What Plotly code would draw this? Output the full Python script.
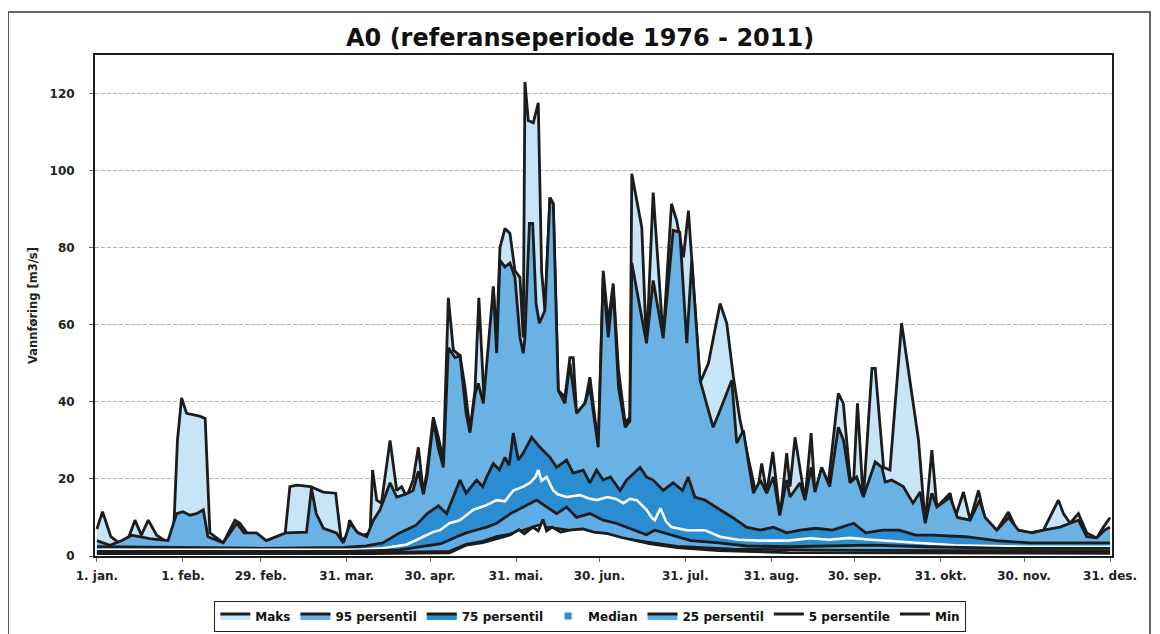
import plotly.graph_objects as go

# Day-of-year (1..366, leap year) and discharge values
maks_day = [1, 3, 6, 10, 12, 14.7, 17, 19.5, 22.5, 26.7, 28.5, 30, 31.5, 33.3, 38, 40, 41.7,
            46.5, 50.7, 52.5, 55, 59.7, 62, 67, 68.7, 70.5, 73, 78, 82.5, 87, 89, 91, 92, 94.6,
            97, 99.4, 100.3, 101.8, 103.5, 106.6, 109, 110.8, 112.6, 114.9, 116.8, 118.6, 119.8,
            122.2, 124, 125.8, 127.6, 129.4, 131.8, 133.6, 135.4, 137.2, 138.6, 140.5, 142.6,
            143.8, 145, 146.2, 148, 149.8, 151.6, 153.4, 154.6, 155.2, 156.4, 158.2, 160, 161.2,
            162.4, 164.2, 165.4, 167.2, 169.6, 171.4, 172.6, 173.8, 176.8, 178.6, 180.5, 181.6,
            183.4, 185.2, 187, 188.9, 191.3, 193, 193.7, 195.4, 197.3, 199, 201.4, 205, 208,
            209.9, 212.3, 214.1, 215.3, 218.3, 221.3, 225.5, 227.9, 230.3, 232.7, 235.7, 238.7,
            240.5, 242.3, 244.5, 247.1, 249.5, 250.7, 252.5, 254.3, 256.1, 258.3, 259.7, 262.1,
            264.5, 268.1, 269.9, 272.3, 273.6, 275, 277.1, 280.2, 281.4, 284.4, 286.7, 290.9,
            295.2, 297, 299.4, 301.8, 303.6, 306, 308.4, 310.2, 313.2, 315.6, 318.6, 321, 325.2,
            329.4, 332.4, 337.2, 342, 347.4, 349.2, 351.6, 354.6, 357.6, 361.2, 363.6, 366]
maks_val = [7, 11.5, 5, 2.8, 4, 9.3, 5.4, 9.3, 5.4, 3.4, 4, 30, 41, 37, 36.3, 35.7, 6,
            3.4, 9.3, 8.5, 6, 4.7, 3.4, 3.4, 5, 18, 18.4, 18, 16.6, 16.3, 4.1, 5, 9.3, 6.2,
            5.4, 6, 22.3, 14.5, 13.7, 30, 17, 18, 15.3, 19.7, 28.2, 16.3, 21.5,
            36, 30.8, 24.9, 67, 53.4, 52, 43.8, 32.6, 43, 67, 40, 38.6,
            70, 56.7, 80, 85, 83.7, 74, 72.3, 56.7, 123, 113, 112.4, 117.6, 74,
            63.7, 93, 91.4, 43, 41.2, 51.5, 51.5, 37, 39.6, 46.4, 35.2, 28.2,
            74, 60.4, 70.7, 48.2, 34.5, 36, 99.2, 93, 85.2, 54, 94.3, 56.5, 91.4,
            87, 77.5, 89.6, 76.7, 45, 50, 65.5, 60.4, 46.4, 35.2, 24.9, 15.3,
            24, 16.3, 27, 10.1, 26.7, 18, 30.8, 23, 14.5, 31.9, 16.3, 22.8,
            18.9, 42.2, 39.6, 20.5, 19.2, 39.6, 14.5, 48.7, 48.7, 23, 22.3, 60.4,
            39.6, 30, 8.5, 27.5, 12.7, 14.5, 16.3, 10, 16.6, 9.3, 17, 9.3, 6.7,
            11.4, 6.7, 6, 6.7, 14.5, 11, 8.5, 11, 6, 4.7, 7.5, 10]

p95_day = [1, 5.7, 10, 13.5, 20, 26.6, 29.7, 32, 34.5, 36.9, 39.3, 41, 46.5, 51.4, 54, 58.5,
           62, 69, 76.5, 78.3, 80, 82.6, 87.3, 89.8, 92.2, 95, 98.2, 100.6, 103, 106.6, 109,
           112, 114.9, 116.8, 118.6, 120, 122.2, 124, 125.8, 127.6, 130, 131.8, 134, 135.4,
           137.2, 138.4, 140.2, 143.8, 145, 146.2, 148, 149.8, 151.6, 153.4, 154.6, 155.2,
           156.8, 158, 159.2, 160.4, 162.4, 164.2, 165.4, 167.2, 169.6, 171.4, 173.8, 176.8,
           178.6, 180.5, 181.6, 183.4, 185.2, 187, 188.9, 191.3, 193, 193.7, 196.7, 199, 201.4,
           205, 208.6, 211, 213.5, 215.3, 218.3, 223, 225.5, 227.9, 229.7, 231.5, 233.9, 237.5,
           240, 242.3, 244.7, 247, 249.5, 250.7, 254.3, 256.1, 258.3, 259.7, 262.1, 265, 268.1,
           270, 272.3, 274.7, 277.1, 281.4, 283.8, 285, 287.3, 291.5, 295, 297.6, 299.4, 301.8,
           303.6, 306, 308.4, 311, 315.6, 319, 321, 325.2, 329.4, 333, 338, 342, 348, 351.6,
           354.6, 357.6, 361.2, 364, 366]
p95_val = [4, 2.8, 4, 5.4, 4.5, 4, 11, 11.5, 10.6, 11, 12, 5, 3.4, 8.5, 6, 6,
           4, 6, 6.2, 17.6, 11, 7.2, 6, 3.4, 8.5, 6, 5, 9.3, 12, 19, 15.3,
           16, 17, 22, 16, 21, 35, 28, 23, 54, 51.5, 52, 37, 32,
           42, 44.8, 39.6, 69.7, 52.6, 76.7, 75, 76, 72.3, 56.7, 52.6, 56.7,
           86.3, 86.3, 65.5, 60.4, 63.7, 93, 91.4, 43, 39.6, 50, 37, 39.6,
           43.8, 34.5, 28.2, 72.3, 56.7, 69.7, 43.8, 33.4, 35, 76, 64.5, 55.2, 71.5,
           56.5, 84.5, 84, 55.2, 76.7, 45.6, 33.4, 37.8, 42.2, 45.6, 29.3, 32.6, 16.3,
           19.7, 16.3, 20.5, 10.5, 19.7, 15.3, 19, 14.5, 23, 16.6, 23, 18, 33.4,
           30, 19, 20.5, 15.3, 24.4, 23, 19.2, 19.7, 18, 13.7, 16.6, 8.5, 16.3,
           12.7, 14, 15.3, 10, 9.3, 14.5, 10, 6.7, 10, 6.7, 6, 6.7, 7.5, 8.5,
           9.3, 5, 4.7, 6.7, 7.5]

p75_day = [1, 30, 60, 90, 98, 104, 110, 116, 120, 124, 127, 131.8, 134, 137.8, 140, 141.4,
           143.8, 146, 148, 149.5, 151, 152.8, 154.6, 157.6, 160.6, 164.2, 166.6, 170.2, 172.6,
           176.2, 178.6, 181, 183.4, 186, 189.5, 191.8, 194.3, 196.7, 199, 201.4, 205, 208.6,
           212, 214, 216.4, 220, 225.5, 230, 235, 240, 244.7, 249.5, 254.3, 260, 266, 271,
           273.6, 278, 284, 290, 296, 302, 314, 325, 337, 366]
p75_val = [2.4, 2.2, 2, 2.2, 2.6, 3.4, 6, 8, 11, 13, 11, 19.7, 16.3, 19.7, 18, 20.5,
           24, 22.3, 25.6, 23.5, 31.9, 24.9, 26.7, 30.8, 28.2, 25.6, 23, 24.9, 21.5,
           22.3, 19, 22.3, 19.7, 20.5, 17, 19.7, 21.5, 23, 20.5, 19.7, 17, 19,
           17, 20.5, 15.3, 14.5, 12, 10, 7.5, 6.7, 7.5, 6, 6.7, 7.2, 6.7, 8,
           8.5, 6, 6.7, 6.7, 5.4, 5.4, 5, 4, 3.4, 3.4]

median_day = [1, 60, 95, 104, 112.6, 118.6, 122, 124.6, 128, 131.8, 136.6, 141.4, 145, 148,
              151, 154.6, 157, 159, 160, 161.2, 163, 165.4, 167, 170.2, 175, 178, 181, 185,
              188, 190.7, 193, 195.5, 199, 200.8, 202, 204, 206, 208, 213.5, 220, 225.5, 232,
              240, 250, 258, 265, 272, 280, 290, 297, 310, 335, 366]
median_val = [1.6, 1.5, 1.6, 2, 3, 5, 6.2, 6.7, 8.5, 9.3, 12, 13.2, 14.5, 14.2,
              17, 18, 19, 20.5, 22.3, 19.5, 20.5, 17, 16, 15.3, 15.8, 15, 14.5, 15.3,
              14.8, 13.7, 14.8, 14.5, 12, 10, 9.3, 12.4, 9, 7.5, 6.7, 6.7, 5, 4.2,
              4, 4, 4.6, 4.2, 4.7, 4.2, 3.8, 3.4, 2.8, 2.4, 2.4]

p25_day = [1, 90, 110, 118, 125, 130.6, 134, 139, 141.4, 145, 150, 154.6, 159.4, 161, 166.6,
           170.2, 173.8, 178.6, 183.4, 188, 195, 199, 202, 208, 215, 225, 235, 250, 280, 300,
           330, 366]
p25_val = [1.2, 1.2, 1.6, 2.4, 3.2, 5, 6, 7, 7.5, 8.5, 11, 12.7, 14.5, 13.7, 11,
           12.7, 10, 11, 9.3, 8.5, 6.7, 5.5, 6.7, 5.5, 4, 3.4, 2.6, 2.4, 2.8, 2.4,
           2, 2]

p5_day = [1, 100, 128, 131, 134, 140, 145, 152, 156, 160, 163, 168, 172, 178, 184, 190, 196,
          200, 210, 230, 260, 366]
p5_val = [0.9, 0.9, 1.2, 2, 3, 3.8, 5, 6, 7, 8, 7.5, 7, 6.5, 6, 5.5, 4.5, 4,
          3.5, 2.5, 1.8, 1.5, 1.2]

min_day = [1, 100, 128, 131, 134, 140, 145, 150, 153, 155, 158, 160, 161.7, 163, 165, 168,
           172, 176, 180, 185, 190, 196, 200, 210, 225, 250, 366]
min_val = [0.6, 0.6, 0.8, 1.8, 2.8, 3.5, 4.5, 5.5, 6.8, 5.8, 7.5, 6.5, 9.5, 6.5, 7.5, 6.2,
           6.8, 7, 6.2, 5.8, 4.8, 3.8, 3.2, 2.2, 1.4, 0.9, 0.7]

tick_days = [1, 32, 60, 91, 121, 152, 182, 213, 244, 274, 305, 335, 366]
tick_labels = ["1. jan.", "1. feb.", "29. feb.", "31. mar.", "30. apr.", "31. mai.",
               "30. jun.", "31. jul.", "31. aug.", "30. sep.", "31. okt.", "30. nov.",
               "31. des."]
y_ticks = [0, 20, 40, 60, 80, 100, 120]

FONT = "DejaVu Sans, sans-serif"
INK = "#1c1c1c"

fig = go.Figure()


def area(name, days, vals, fill):
    fig.add_trace(go.Scatter(
        x=days, y=vals, name=name, mode="lines", fill="tozeroy", fillcolor=fill,
        line={"color": INK, "width": 2.8},
    ))


area("Maks", maks_day, maks_val, "#c8e5f7")
area("95 persentil", p95_day, p95_val, "#6ab2e4")
area("75 persentil", p75_day, p75_val, "#2a8dd2")
fig.add_trace(go.Scatter(
    x=median_day, y=median_val, name="Median", mode="lines", showlegend=False,
    line={"color": "white", "width": 2.6},
))
# legend-only entry: Excel shows the median key as a small blue square
fig.add_trace(go.Scatter(
    x=[None], y=[None], name="Median", mode="markers",
    marker={"symbol": "square", "size": 7, "color": "#2a8dd2"},
))
area("25 persentil", p25_day, p25_val, "#5eade6")
area("5 persentile", p5_day, p5_val, "white")
area("Min", min_day, min_val, "white")

# outer chart frame
fig.add_shape(type="rect", xref="paper", yref="paper", x0=-0.0855, x1=1.0374,
              y0=-0.2, y1=1.086, line={"color": "#333", "width": 1.5}, layer="below")

fig.update_layout(
    width=1160, height=634,
    margin={"l": 87, "r": 56, "t": 47, "b": 86},
    paper_bgcolor="white", plot_bgcolor="white",
    font={"family": FONT, "color": "#222"},
    title={"text": "<b>A0 (referanseperiode 1976 - 2011)</b>", "x": 0.477, "xref": "paper",
           "xanchor": "center", "y": 0.953, "yref": "container", "yanchor": "middle",
           "font": {"size": 24, "color": "#111"}},
    showlegend=True,
    legend={"orientation": "h", "x": 0.487, "xanchor": "center", "y": 0.041,
            "yref": "container", "yanchor": "middle", "bordercolor": "#222",
            "borderwidth": 1, "font": {"size": 12, "color": "#111", "weight": "bold"},
            "itemwidth": 30, "traceorder": "normal"},
    xaxis={"range": [0.3, 366.7], "tickmode": "array", "tickvals": tick_days,
           "ticktext": [f"<b>{t}</b>" for t in tick_labels], "tickfont": {"size": 12},
           "showgrid": False, "zeroline": False, "showline": True, "mirror": True,
           "linecolor": INK, "linewidth": 2, "ticks": "outside", "ticklen": 4,
           "tickcolor": "#666", "ticklabelstandoff": 4},
    yaxis={"range": [0, 130], "tickvals": y_ticks,
           "ticktext": [f"<b>{v}</b>" for v in y_ticks],
           "tickfont": {"size": 12}, "showgrid": True, "gridcolor": "#b0b0b0",
           "griddash": "4px,2px", "gridwidth": 1, "zeroline": False, "showline": True,
           "mirror": True, "linecolor": INK, "linewidth": 2, "ticks": "outside",
           "ticklen": 4, "tickcolor": "#666", "ticklabelstandoff": 12,
           "title": {"text": "<b>Vannføring [m3/s]</b>", "font": {"size": 11.5},
                     "standoff": 10}},
)

fig.write_html("out.html")
